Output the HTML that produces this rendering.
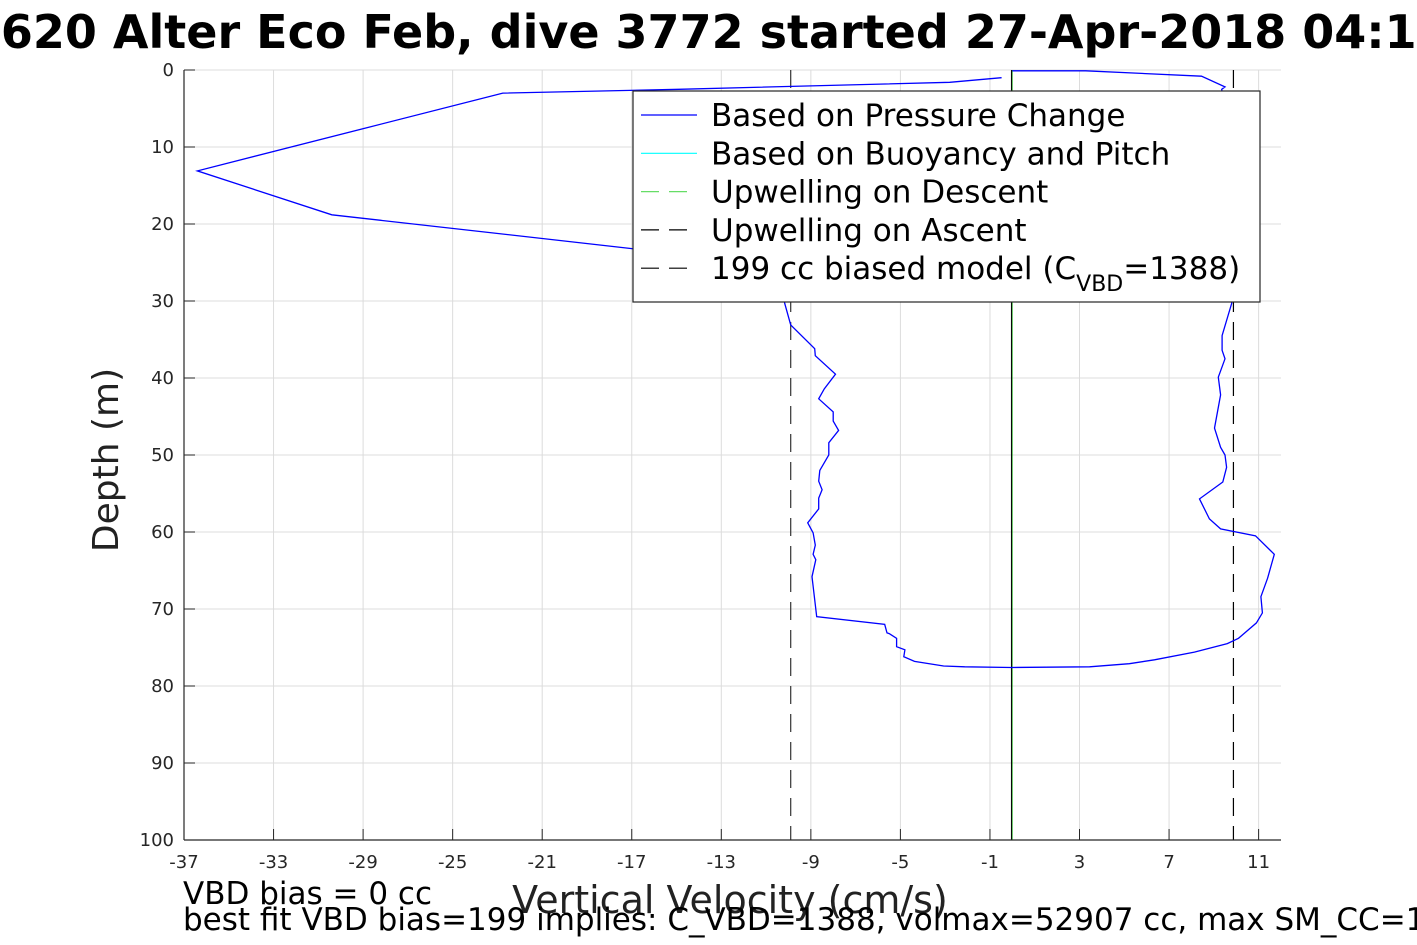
<!DOCTYPE html>
<html><head><meta charset="utf-8"><style>
html,body{margin:0;padding:0;background:#fff;overflow:hidden;}
svg{display:block;font-family:"DejaVu Sans","Liberation Sans",sans-serif;}
</style></head><body>
<svg id="chart" width="1417" height="945" viewBox="0 0 1417 945" xmlns="http://www.w3.org/2000/svg">
<text x="-70" y="48" font-size="46" font-weight="bold" fill="#000">SG620 Alter Eco Feb, dive 3772 started 27-Apr-2018 04:15</text>
<g id="grid"></g>
<g id="marks"></g>
<g id="axes"></g>
<text transform="translate(118,460) rotate(-90)" text-anchor="middle" font-size="36" fill="#222">Depth (m)</text>
<text x="730" y="913" text-anchor="middle" font-size="38" fill="#222">Vertical Velocity (cm/s)</text>
<text x="183" y="904" font-size="31" fill="#000">VBD bias = 0 cc</text>
<text x="183" y="930" font-size="31" fill="#000">best fit VBD bias=199 implies: C_VBD=1388, volmax=52907 cc, max SM_CC=100</text>
<g id="legend"></g>
</svg>
<script>
const xTicks = [-37,-33,-29,-25,-21,-17,-13,-9,-5,-1,3,7,11];
const yTicks = [0,10,20,30,40,50,60,70,80,90,100];
const velocity = [-0.48,-2.8,-14.9,-22.76,-36.4,-30.4,-17,-10.4,-10.17,-9.9,-8.83,-8.8,-7.9,-8.4,-8.65,-8.0,-8.0,-7.76,-8.2,-8.2,-8.6,-8.65,-8.5,-8.65,-8.65,-9.14,-8.9,-8.8,-8.9,-8.78,-8.95,-8.74,-5.7,-5.6,-5.5,-5.17,-5.17,-4.8,-4.85,-4.37,-3.07,-2.13,-0.04,3.45,5.23,6.35,8.13,9.6,10.1,10.9,11.17,11.1,11.4,11.7,10.86,9.3,8.8,8.36,9.4,9.57,9.5,9.3,9.03,9.3,9.2,9.5,9.37,9.37,9.8,9.9,9.35,9.5,8.45,3.27,0.0];
const depth = [1.0,1.6,2.5,3.0,13.1,18.8,23.2,26,30.3,33.1,36.2,37.1,39.5,41.4,42.7,44.4,45.6,46.8,48.4,50.0,52.0,53.4,54.5,55.6,57.0,58.8,60.1,61.7,62.9,63.6,65.8,71.0,72.0,73.1,73.2,73.8,74.9,75.3,76.2,76.8,77.4,77.5,77.6,77.5,77.1,76.6,75.6,74.5,73.8,71.8,70.5,68.4,66.0,62.9,60.5,59.6,58.3,55.7,53.5,51.6,50.0,49.0,46.5,42.2,39.9,37.5,36.4,34.5,30.3,15,2.5,2.2,0.8,0.1,0.1];
const upwellDescent = -9.9;
const upwellAscent = 9.875;
const modelVelocity = -0.04;
const legendLabels = ["Based on Pressure Change","Based on Buoyancy and Pitch","Upwelling on Descent","Upwelling on Ascent","199 cc biased model (C"];

const X0=184, X1=1281, Y0=70, Y1=840, VMIN=-37, VMAX=12, DMIN=0, DMAX=100;
const sx = v => X0 + (v-VMIN)/(VMAX-VMIN)*(X1-X0);
const sy = d => Y0 + (d-DMIN)/(DMAX-DMIN)*(Y1-Y0);
const NS="http://www.w3.org/2000/svg";
function mk(tag, attrs, parent){const e=document.createElementNS(NS,tag);for(const k in attrs)e.setAttribute(k,attrs[k]);parent.appendChild(e);return e;}
const grid=document.getElementById('grid'), axes=document.getElementById('axes'), marks=document.getElementById('marks'), legend=document.getElementById('legend');

xTicks.forEach(t=>{
  const g=mk('line',{x1:sx(t),x2:sx(t),y1:Y0,y2:Y1,stroke:'#dcdcdc','stroke-width':1},grid);
  
  
  const tk=mk('line',{x1:sx(t),x2:sx(t),y1:Y1,y2:Y1-11,stroke:'#262626','stroke-width':1},axes);
  
  
  const lb=mk('text',{x:sx(t),y:Y1+28,'text-anchor':'middle','font-size':18,fill:'#262626'},axes);
  lb.textContent=t;
  
  
});
yTicks.forEach(t=>{
  const g=mk('line',{x1:X0,x2:X1,y1:sy(t),y2:sy(t),stroke:'#dcdcdc','stroke-width':1},grid);
  
  
  const tk=mk('line',{x1:X0,x2:X0+11,y1:sy(t),y2:sy(t),stroke:'#262626','stroke-width':1},axes);
  
  
  const lb=mk('text',{x:X0-10,y:sy(t)+6,'text-anchor':'end','font-size':18,fill:'#262626'},axes);
  lb.textContent=t;
  
  
});
const ax1=mk('line',{x1:X0,x2:X0,y1:Y0,y2:Y1,stroke:'#262626','stroke-width':1.2},axes);


const ax2=mk('line',{x1:X0,x2:X1,y1:Y1,y2:Y1,stroke:'#262626','stroke-width':1.2},axes);



const vd=mk('line',{x1:sx(upwellDescent),x2:sx(upwellDescent),y1:Y0,y2:Y1,stroke:'#333','stroke-width':1.2,'stroke-dasharray':'18,10'},marks);


const va=mk('line',{x1:sx(upwellAscent),x2:sx(upwellAscent),y1:Y0,y2:Y1,stroke:'#000','stroke-width':1.2,'stroke-dasharray':'18,10'},marks);


const vg=mk('line',{x1:sx(modelVelocity)+0.7,x2:sx(modelVelocity)+0.7,y1:Y0,y2:Y1,stroke:'#00a000','stroke-width':0.8},marks);


const vm=mk('line',{x1:sx(modelVelocity),x2:sx(modelVelocity),y1:Y0,y2:Y1,stroke:'#000','stroke-width':1},marks);



const pts=velocity.map((v,i)=>sx(v).toFixed(1)+','+sy(depth[i]).toFixed(1)).join(' ');
const pl=mk('polyline',{points:pts,fill:'none',stroke:'#0000ff','stroke-width':1.3},marks);



const box=mk('rect',{x:633,y:91,width:627,height:211,fill:'#fff',stroke:'#262626','stroke-width':1.2},legend);


const lcol=['#0000ff','#00ffff','#66dd66','#000','#000'];
const ldash=['none','none','18,10','18,10','18,10'];
legendLabels.forEach((s,i)=>{
  const y=115+i*38.3;
  const ln=mk('line',{x1:641,x2:697,y1:y,y2:y,stroke:lcol[i],'stroke-width':1.2,'stroke-dasharray':ldash[i]},legend);
  
  
  const tx=mk('text',{x:711,y:y+11,'font-size':31,fill:'#000'},legend);
  
  
  tx.textContent=s;
  if(i===4){
    const sub=mk('tspan',{dy:12,'font-size':22},tx); sub.textContent='VBD';
    const rest=mk('tspan',{dy:-12},tx); rest.textContent='=1388)';
  }
});
</script>
</body></html>
